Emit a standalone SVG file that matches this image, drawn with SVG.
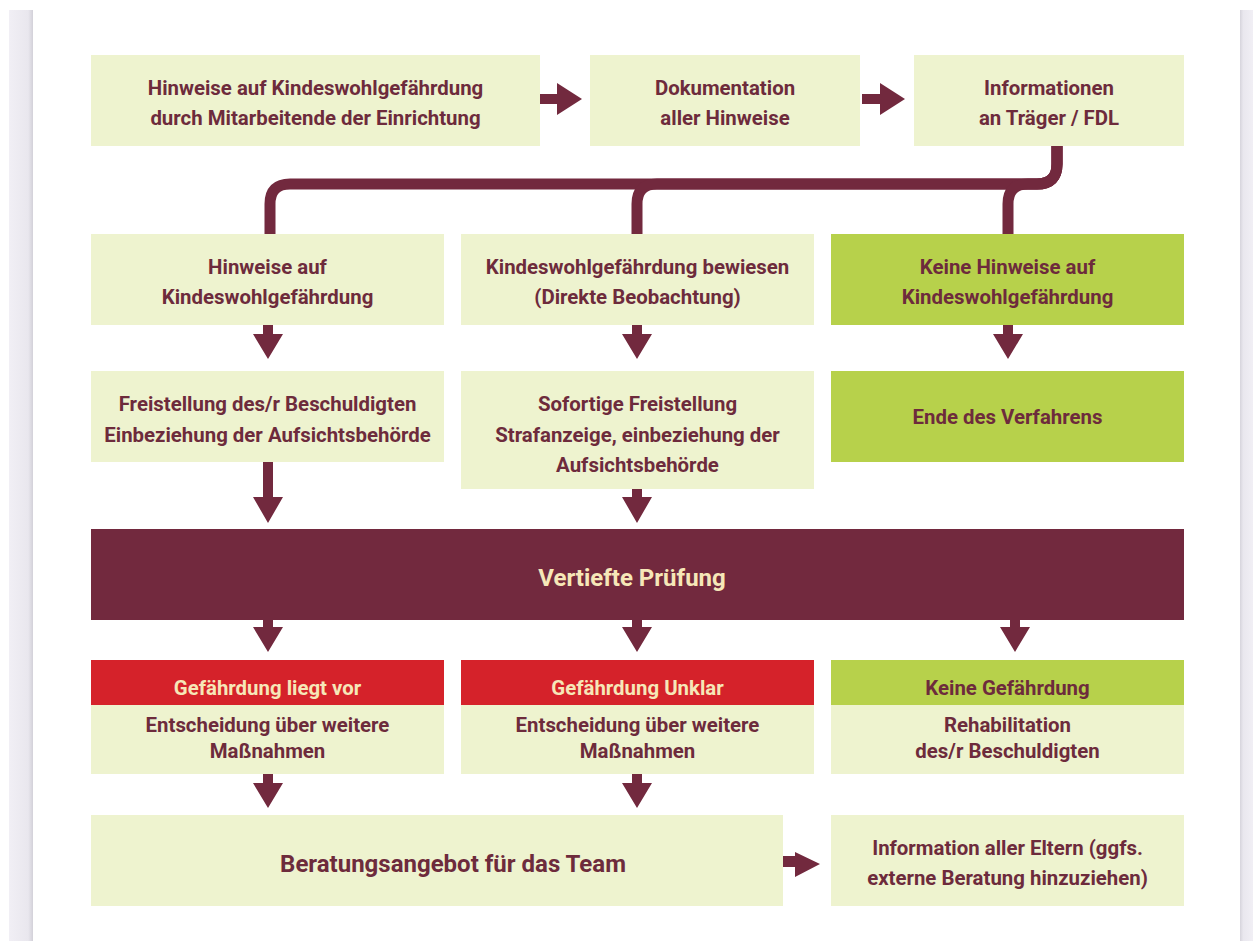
<svg xmlns="http://www.w3.org/2000/svg" width="1253" height="941" viewBox="0 0 1253 941">
  <defs>
    <linearGradient id="edge" x1="0" y1="0" x2="1" y2="0">
      <stop offset="0" stop-color="#f1eff5"/>
      <stop offset="0.8" stop-color="#e9e7ee"/>
      <stop offset="1" stop-color="#d3d1d9"/>
    </linearGradient>
    <linearGradient id="edgeR" x1="0" y1="0" x2="1" y2="0">
      <stop offset="0" stop-color="#d6d4dc"/>
      <stop offset="0.25" stop-color="#e9e7ee"/>
      <stop offset="1" stop-color="#f1eff5"/>
    </linearGradient>
    <style>
      .box { fill: #eef3cf; }
      .green { fill: #b7d14b; }
      .dark { fill: #72293e; }
      .red { fill: #d5222a; }
      .t { font-family: Roboto, "Liberation Sans", sans-serif; font-weight: bold; font-size: 20.4px; fill: #6d2b3c; text-anchor: middle; }
      .big { font-size: 24px; }
      .light { fill: #f6e7b8; }
      .arrow { fill: #72293e; }
      .bus { fill: none; stroke: #72293e; stroke-width: 11; }
    </style>
  </defs>

  <rect width="1253" height="941" fill="#ffffff"/>
  <!-- page edges -->
  <rect x="9" y="10" width="24" height="931" fill="url(#edge)"/>
  <rect x="1240" y="10" width="13" height="931" fill="url(#edgeR)"/>

  <!-- connectors -->
  <g id="connectors">
    <path class="bus" d="M1057,146 V164 Q1057,184 1037,184 H290 Q270,184 270,204 V234"/>
    <path class="bus" d="M1057,146 V164 Q1057,184 1037,184 H657 Q637,184 637,204 V234"/>
    <path class="bus" d="M1057,146 V164 Q1057,184 1037,184 H1028 Q1008,184 1008,204 V234"/>

    <!-- horizontal arrows, top row -->
    <path class="arrow" d="M540,94 H557 V83 L582,99 L557,115 V104 H540 Z"/>
    <path class="arrow" d="M862,94 H880 V83 L905,99 L880,115 V104 H862 Z"/>

    <!-- row 2 to row 3 -->
    <path class="arrow" d="M263,325 H273 V334 H283 L268,359 L253,334 H263 Z"/>
    <path class="arrow" d="M632,325 H642 V334 H652 L637,359 L622,334 H632 Z"/>
    <path class="arrow" d="M1003,325 H1013 V334 H1023 L1008,359 L993,334 H1003 Z"/>

    <!-- row 3 to review -->
    <path class="arrow" d="M263,462 H273 V497 H283 L268,523 L253,497 H263 Z"/>
    <path class="arrow" d="M632,489 H642 V497 H652 L637,523 L622,497 H632 Z"/>

    <!-- review to outcomes -->
    <path class="arrow" d="M263,620 H273 V627 H283 L268,652 L253,627 H263 Z"/>
    <path class="arrow" d="M632,620 H642 V627 H652 L637,652 L622,627 H632 Z"/>
    <path class="arrow" d="M1010,620 H1020 V627 H1030 L1015,652 L1000,627 H1010 Z"/>

    <!-- outcomes to team -->
    <path class="arrow" d="M263,774 H273 V783 H283 L268,808 L253,783 H263 Z"/>
    <path class="arrow" d="M632,774 H642 V783 H652 L637,808 L622,783 H632 Z"/>

    <!-- team to parents -->
    <path class="arrow" d="M783,856 H795 V852 L820,864 L795,877 V867 H783 Z"/>
  </g>

  <!-- row 1 -->
  <g id="n-hinweise-mitarbeitende">
    <rect class="box" x="91" y="55" width="449" height="91"/>
    <text class="t" x="315.5" y="95">Hinweise auf Kindeswohlgefährdung</text>
    <text class="t" x="315.5" y="125">durch Mitarbeitende der Einrichtung</text>
  </g>
  <g id="n-dokumentation">
    <rect class="box" x="590" y="55" width="270" height="91"/>
    <text class="t" x="725" y="95">Dokumentation</text>
    <text class="t" x="725" y="125">aller Hinweise</text>
  </g>
  <g id="n-information-traeger">
    <rect class="box" x="914" y="55" width="270" height="91"/>
    <text class="t" x="1049" y="95">Informationen</text>
    <text class="t" x="1049" y="125">an Träger / FDL</text>
  </g>

  <!-- row 2 -->
  <g id="n-hinweise">
    <rect class="box" x="91" y="234" width="353" height="91"/>
    <text class="t" x="267.5" y="274">Hinweise auf</text>
    <text class="t" x="267.5" y="304">Kindeswohlgefährdung</text>
  </g>
  <g id="n-bewiesen">
    <rect class="box" x="461" y="234" width="353" height="91"/>
    <text class="t" x="637.5" y="274">Kindeswohlgefährdung bewiesen</text>
    <text class="t" x="637.5" y="304">(Direkte Beobachtung)</text>
  </g>
  <g id="n-keine-hinweise">
    <rect class="green" x="831" y="234" width="353" height="91"/>
    <text class="t" x="1007.5" y="274">Keine Hinweise auf</text>
    <text class="t" x="1007.5" y="304">Kindeswohlgefährdung</text>
  </g>

  <!-- row 3 -->
  <g id="n-freistellung">
    <rect class="box" x="91" y="371" width="353" height="91"/>
    <text class="t" x="267.5" y="411">Freistellung des/r Beschuldigten</text>
    <text class="t" x="267.5" y="442">Einbeziehung der Aufsichtsbehörde</text>
  </g>
  <g id="n-sofortige-freistellung">
    <rect class="box" x="461" y="371" width="353" height="118"/>
    <text class="t" x="637.5" y="411">Sofortige Freistellung</text>
    <text class="t" x="637.5" y="442">Strafanzeige, einbeziehung der</text>
    <text class="t" x="637.5" y="472">Aufsichtsbehörde</text>
  </g>
  <g id="n-ende">
    <rect class="green" x="831" y="371" width="353" height="91"/>
    <text class="t" x="1007.5" y="424">Ende des Verfahrens</text>
  </g>

  <!-- review -->
  <g id="n-vertiefte-pruefung">
    <rect class="dark" x="91" y="529" width="1093" height="91"/>
    <text class="t big light" x="632" y="586">Vertiefte Prüfung</text>
  </g>

  <!-- outcomes -->
  <g id="n-gefaehrdung-liegt-vor">
    <rect class="red" x="91" y="660" width="353" height="45"/>
    <rect class="box" x="91" y="705" width="353" height="69"/>
    <text class="t light" x="267.5" y="695">Gefährdung liegt vor</text>
    <text class="t" x="267.5" y="732">Entscheidung über weitere</text>
    <text class="t" x="267.5" y="758">Maßnahmen</text>
  </g>
  <g id="n-gefaehrdung-unklar">
    <rect class="red" x="461" y="660" width="353" height="45"/>
    <rect class="box" x="461" y="705" width="353" height="69"/>
    <text class="t light" x="637.5" y="695">Gefährdung Unklar</text>
    <text class="t" x="637.5" y="732">Entscheidung über weitere</text>
    <text class="t" x="637.5" y="758">Maßnahmen</text>
  </g>
  <g id="n-keine-gefaehrdung">
    <rect class="green" x="831" y="660" width="353" height="45"/>
    <rect class="box" x="831" y="705" width="353" height="69"/>
    <text class="t" x="1007.5" y="695">Keine Gefährdung</text>
    <text class="t" x="1007.5" y="732">Rehabilitation</text>
    <text class="t" x="1007.5" y="758">des/r Beschuldigten</text>
  </g>

  <!-- bottom row -->
  <g id="n-beratung-team">
    <rect class="box" x="91" y="815" width="692" height="91"/>
    <text class="t big" x="453" y="872">Beratungsangebot für das Team</text>
  </g>
  <g id="n-information-eltern">
    <rect class="box" x="831" y="815" width="353" height="91"/>
    <text class="t" x="1007.5" y="855">Information aller Eltern (ggfs.</text>
    <text class="t" x="1007.5" y="885">externe Beratung hinzuziehen)</text>
  </g>
</svg>
